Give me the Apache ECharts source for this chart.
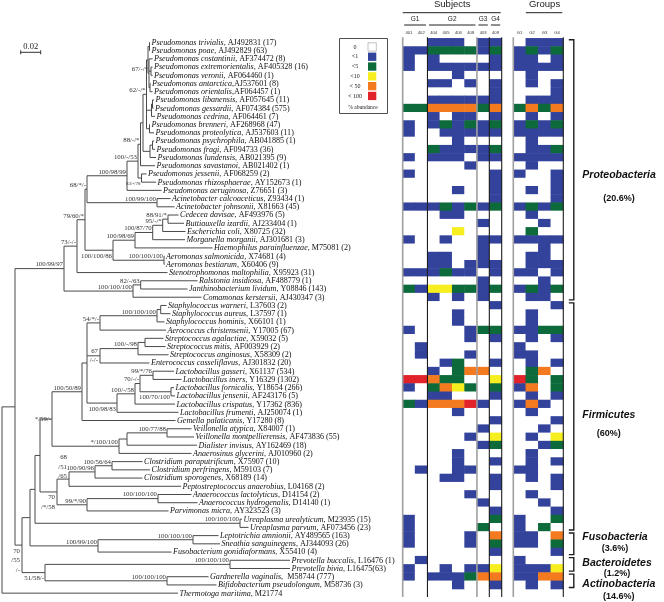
<!DOCTYPE html>
<html>
<head>
<meta charset="utf-8">
<script src="https://cdn.jsdelivr.net/npm/echarts@6/dist/echarts.min.js"></script>
<style>
  html, body { margin: 0; padding: 0; background: #fff; }
  #main { width: 664px; height: 602px; }
</style>
</head>
<body>
<div id="main"></div>
<script>
// tip names (italic part) and the accession / clone count that follows
const species = [
  'Pseudomonas trivialis', 'Pseudomonas poae', 'Pseudomonas costantinii', 'Pseudomonas extremorientalis',
  'Pseudomonas veronii', 'Pseudomonas antarctica', 'Pseudomonas orientalis', 'Pseudomonas libanensis',
  'Pseudomonas gessardii', 'Pseudomonas cedrina', 'Pseudomonas brenneri', 'Pseudomonas proteolytica',
  'Pseudomonas psychrophila', 'Pseudomonas fragi', 'Pseudomonas lundensis', 'Pseudomonas savastanoi',
  'Pseudomonas jessenii', 'Pseudomonas rhizosphaerae', 'Pseudomonas aeruginosa', 'Acinetobacter calcoaceticus',
  'Acinetobacter johnsonii', 'Cedecea davisae', 'Buttiauxella izardii', 'Escherichia coli',
  'Morganella morganii', 'Haemophilus parainfluenzae', 'Aeromonas salmonicida', 'Aeromonas bestiarum',
  'Stenotrophomonas maltophilia', 'Ralstonia insidiosa', 'Janthinobacterium lividum', 'Comamonas kerstersii',
  'Staphylococcus warneri', 'Staphylococcus aureus', 'Staphylococcus hominis', 'Aerococcus christensenii',
  'Streptococcus agalactiae', 'Streptococcus mitis', 'Streptococcus anginosus', 'Enterococcus casseliflavus',
  'Lactobacillus gasseri', 'Lactobacillus iners', 'Lactobacillus fornicalis', 'Lactobacillus jensenii',
  'Lactobacillus crispatus', 'Lactobacillus frumenti', 'Gemella palaticanis', 'Veillonella atypica',
  'Veillonella montpellierensis', 'Dialister invisus', 'Anaerosinus glycerini', 'Clostridium paraputrificum',
  'Clostridium perfringens', 'Clostridium sporogenes', 'Peptostreptococcus anaerobius', 'Anaerococcus lactolyticus',
  'Anaerococcus hydrogenalis', 'Parvimonas micra', 'Ureaplasma urealyticum', 'Ureaplasma parvum',
  'Leptotrichia amnionii', 'Sneathia sanguinegens', 'Fusobacterium gonidiaformans', 'Prevotella buccalis',
  'Prevotella bivia', 'Gardnerella vaginalis', 'Bifidobacterium pseudolongum', 'Thermotoga maritima'
];
const accessions = [
  ', AJ492831 (17)', ', AJ492829 (63)', ', AF374472 (8)', ', AF405328 (16)',
  ', AF064460 (1)', ',AJ537601 (8)', ',AF064457 (1)', ', AF057645 (11)',
  ', AF074384 (575)', ', AF064461 (7)', ', AF268968 (47)', ', AJ537603 (11)',
  ', AB041885 (1)', ', AF094733 (36)', ', AB021395 (9)', ', AB021402 (1)',
  ', AF068259 (2)', ', AY152673 (1)', ', Z76651 (3)', ', Z93434 (1)',
  ', X81663 (45)', ', AF493976 (5)', ', AJ233404 (1)', ', X80725 (32)',
  ', AJ301681 (3)', ', M75081 (2)', ', X74681 (4)', ', X60406 (9)',
  ', X95923 (31)', ', AF488779 (1)', ', Y08846 (143)', ', AJ430347 (3)',
  ', L37603 (2)', ', L37597 (1)', ', X66101 (1)', ', Y17005 (67)',
  ', X59032 (5)', ', AF003929 (2)', ', X58309 (2)', ', AJ301832 (20)',
  ', X61137 (534)', ', Y16329 (1302)', ', Y18654 (266)', ', AF243176 (5)',
  ', Y17362 (836)', ', AJ250074 (1)', ', Y17280 (8)', ', X84007 (1)',
  ', AF473836 (55)', ', AY162469 (18)', ', AJ010960 (2)', ', X75907 (10)',
  ', M59103 (7)', ', X68189 (14)', ', L04168 (2)', ', D14154 (2)',
  ', D14140 (1)', ', AY323523 (3)', ', M23935 (15)', ', AF073456 (23)',
  ', AY489565 (163)', ', AJ344093 (26)', ', X55410 (4)', ', L16476 (1)',
  ', L16475(63)', ',  M58744 (777)', ', M58736 (3)', ', M21774'
];

// tree: [support, branch length, children] for clades, [tip index, branch length] for tips
const tree =
['', 0, [
 ['', 0.013, [
  ['100/99/97', 0.049, [
   ['73/-/-', 0.013, [
    ['79/60/*', 0.008, [
     ['68/*/-', 0.002, [
      ['100/98/99', 0.040, [
       ['100/-/53', 0.011, [
        ['88/-/*', 0.0025, [
         ['', 0.0025, [
          ['62/-/*', 0.0035, [
           ['', 0.0015, [
            ['', 0.0015, [[0, 0.0005], [1, 0.0005]]],
            ['67/-/*', 0.001, [
             [2, 0.0035],
             ['', 0.002, [[3, 0.0015], [4, 0.0015]]],
             ['', 0.001, [[5, 0.0005], [6, 0.0025]]]
            ]]
           ]],
           ['', 0.005, [['', 0.001, [[7, 0.0015], [8, 0.001]]], [9, 0.0035]]],
           ['', 0.003, [[10, 0.0005], [11, 0.0045]]]
          ]],
          ['', 0.007, [['', 0.0025, [[12, 0.0015], [13, 0.0025]]], [14, 0.006]]]
         ]],
         [15, 0.0145]
        ]],
        ['83/-/78', 0.0035, [[16, 0.005], [17, 0.0145]]]
       ]],
       [18, 0.0345]
      ]],
      ['100/99/100', 0.070, [[19, 0.0135], [20, 0.0175]]]
     ]],
     ['100/100/86', 0.028, [
      ['100/98/69', 0.022, [
       ['100/87/70', 0.0177, [
        ['95/-/*', 0.010, [['88/91/*', 0.0053, [[21, 0.0105], [22, 0.016]]], [23, 0.0228]]],
        [24, 0.0323]
       ]],
       [25, 0.0775]
      ]],
      ['100/100/100', 0.051, [[26, 0.0005], [27, 0.0005]]]
     ]]
    ]],
    [28, 0.0905]
   ]],
   ['100/100/100', 0.069, [['82/-/63', 0.0077, [[29, 0.0568], [30, 0.0468]]], [31, 0.0685]]]
  ]],
  ['70|/55|/-', 0.007, [
   ['', 0.008, [
    ['', 0.005, [
     ['', 0.005, [
      ['*/59/-', 0.012, [
       ['100/50/89', 0.030, [
        ['', 0.005, [
         ['54/*/-', 0.013, [
          ['100/100/100', 0.057, [['', 0.0037, [[32, 0.0058], [33, 0.0098]]], [34, 0.0075]]],
          [35, 0.066]
         ]],
         ['67|/-/-', 0.013, [
          ['100/-/98', 0.038, [['', 0.007, [[36, 0.0185], [37, 0.0205]]], [38, 0.0305]]],
          [39, 0.0495]
         ]],
         ['100/98/83', 0.030, [
          ['100/-/58', 0.018, [
           ['70/-/-', 0.005, [
            ['99/*/76', 0.013, [[40, 0.021], [41, 0.0285]]],
            ['100/70/100', 0.031, [[42, 0.003], [43, 0.004]]]
           ]],
           [44, 0.040]
          ]],
          [45, 0.0615]
         ]]
        ]],
        [46, 0.0935]
       ]],
       ['*/100/100', 0.067, [
        ['', 0.008, [['100/77/88', 0.040, [[47, 0.0245], [48, 0.027]]], [49, 0.070]]],
        [50, 0.0725]
       ]]
      ]],
      ['70|/*/58', 0.017, [
       ['68|/51|/65', 0.012, [
        ['100/90/96', 0.026, [['100/56/64', 0.017, [[51, 0.0305], [52, 0.038]]], [53, 0.0475]]],
        [54, 0.112]
       ]],
       ['99/*/90', 0.030, [['100/100/100', 0.071, [[55, 0.0335], [56, 0.0395]]], [57, 0.0815]]]
      ]]
     ]],
     ['100/100/100', 0.205, [[58, 0.002], [59, 0.0085]]]
    ]],
    ['100/99/100', 0.068, [['100/100/100', 0.095, [[60, 0.0255], [61, 0.027]]], [62, 0.0735]]]
   ]],
   ['51/58/-', 0.023, [
    ['100/100/100', 0.185, [[63, 0.060], [64, 0.060]]],
    ['100/100/100', 0.122, [[65, 0.0415], [66, 0.0495]]]
   ]]
  ]]
 ]],
 [67, 0.176]
]];

// % abundance class (0..5) per row, one character per column
const subjectCols = ['401', '402', '404', '405', '406', '408', '403', '409'];
const subjectGroups = [['G1', 0, 1], ['G2', 2, 5], ['G3', 6, 6], ['G4', 7, 7]];
const subjectClass = [
  '00111011', '11222212', '10100001', '10111111', '00001000', '00110101', '00000001', '00111111',
  '22444424', '00101101', '10121212', '10011111', '00001000', '00211112', '10111011', '00000100',
  '10000001', '00000001', '00001001', '00000001', '11121212', '00011000', '00000010', '00003000',
  '10010011', '00000010', '00110010', '00110111', '11121101', '00000010', '21332212', '00101010',
  '00000001', '00001000', '00001000', '10000122', '00000101', '01000000', '01000100', '00012001',
  '00102440', '55422003', '10243202', '00110001', '21444510', '00001000', '00000001', '00000010',
  '00000103', '00000012', '00001000', '00001001', '01001100', '00011001', '00000001', '00000100',
  '00000010', '00000001', '10000002', '10000020', '10000104', '10000102', '00000001', '01000000',
  '10010113', '10111244', '00001001'
];
const groupCols = ['G1', 'G2', 'G3', 'G4'];
const groupClass = [
  '0111', '1212', '1101', '1111', '0100', '0101', '0001', '0111',
  '2424', '0101', '1212', '1111', '0100', '0112', '1111', '0100',
  '1001', '0001', '0101', '0001', '1212', '0100', '0010', '0200',
  '1111', '0010', '0110', '0111', '1101', '0010', '1212', '0110',
  '0001', '0100', '0100', '1122', '0101', '1000', '1100', '0101',
  '0240', '5202', '1402', '0101', '1410', '0100', '0001', '0010',
  '0103', '0012', '0100', '0101', '1100', '0101', '0001', '0100',
  '0010', '0001', '1002', '1020', '1104', '1102', '0001', '1000',
  '1113', '1144', '0101'
];
const levels = ['0', '<1', '<5', '<10', '< 50', '< 100'];
const levelColors = ['#ffffff', '#33439b', '#0d6a3a', '#f6ee1f', '#f47a20', '#e3232a'];

// phylum, share of clones, first row, last row
const phyla = [
  ['Proteobacteria', '(20.6%)', 0, 31],
  ['Firmicutes', '(60%)', 32, 59],
  ['Fusobacteria', '(3.6%)', 60, 62],
  ['Bacteroidetes', '(1.2%)', 63, 64],
  ['Actinobacteria', '(14.6%)', 65, 66]
];
const scaleBar = 0.02;

// ---------- layout ----------
const ROW = 8.22;
const TOP = 38.3;
const SERIF = 'Liberation Serif';
const SANS = 'Liberation Sans';
const nRows = subjectClass.length;
// hand placement of the phylum captions relative to the bracket middle (px)
const captionShift = [[5, 29], [-1, 17], [-7, 5], [-1, 9], [3, 16]];
// support labels that sit below their branch (or are centred on it) instead of above
const labelPlace = {
  '51/58/-': 'below', '100/100/86': 'below', '100/98/83': 'below', '100/70/100': 'below',
  '83/-/78': 'below', '*/59/-': 'middle',
  '68|/51|/65': 'above', '70|/*/58': 'below', '70|/55|/-': 'below', '67|/-/-': 'middle'
};

const nodes = [];
function walk(n, x0) {
  const label = n[0], len = n[1], kids = n[2];
  const node = { x0: x0, x: x0 + len };
  if (kids) {
    const cs = kids.map(k => walk(k, node.x));
    node.ya = cs[0].y;
    node.yb = cs[cs.length - 1].y;
    node.y = (node.ya + node.yb) / 2;
    node.tip = -1;
    node.label = label;
  } else {
    node.tip = label;
    node.y = label;
    node.ya = node.yb = label;
    node.label = '';
  }
  nodes.push(node);
  return node;
}
walk(tree, 0);

const branchData = nodes.map(n => [n.x0, n.x, n.y, n.ya, n.yb]);
const tipData = nodes.filter(n => n.tip >= 0).map(n => [n.x, n.y, n.tip]);
const supportNodes = nodes.filter(n => n.label);
const supportData = supportNodes.map((n, i) => [n.x, n.y, i]);

const rowNames = subjectClass.map((s, i) => String(i));
const subjectData = [];
subjectClass.forEach((s, r) => s.split('').forEach((c, k) => subjectData.push([k, r, +c])));
const groupData = [];
groupClass.forEach((s, r) => s.split('').forEach((c, k) => groupData.push([k, r, +c])));

const measure = document.createElement('canvas').getContext('2d');
function textWidth(t, font) { measure.font = font; return measure.measureText(t).width; }

function cellBox(api, col) {
  const c = api.coord([col, 0]);
  const s = api.size([1, 1]);
  return { left: c[0] - s[0] / 2, right: c[0] + s[0] / 2, top: c[1] - s[1] / 2, w: s[0], h: s[1] };
}

// column group headers above a heatmap
function headerSeries(xi, headers, topTitle, titleFrom, titleTo) {
  return {
    type: 'custom', xAxisIndex: xi, yAxisIndex: xi, silent: true,
    data: headers.map((h, i) => [h[1], 0, h[2], i]).concat([[titleFrom, 0, titleTo, -1]]),
    encode: { x: 0, y: 1 },
    renderItem: function (params, api) {
      const from = api.value(0), to = api.value(2), idx = api.value(3);
      const a = cellBox(api, from), b = cellBox(api, to);
      const top = a.top;
      const cx = (a.left + b.right) / 2;
      if (idx < 0) {
        return { type: 'group', children: [
          { type: 'text', x: cx, y: top - 33.5, style: { text: topTitle, fontFamily: SANS, fontSize: 9.5, fill: '#222', align: 'center', verticalAlign: 'middle' } },
          { type: 'line', shape: { x1: a.left, y1: top - 25.6, x2: b.right - 1, y2: top - 25.6 }, style: { stroke: '#222', lineWidth: 1 } }
        ] };
      }
      return { type: 'group', children: [
        { type: 'text', x: cx, y: top - 19, style: { text: headers[idx][0], fontFamily: SANS, fontSize: 6.5, fill: '#222', align: 'center', verticalAlign: 'middle' } },
        { type: 'line', shape: { x1: a.left + 1.5, y1: top - 13.3, x2: b.right - 1.5, y2: top - 13.3 }, style: { stroke: '#222', lineWidth: 1 } }
      ] };
    }
  };
}

// vertical rules through a heatmap: [column boundary, dark?]
function rulesSeries(xi, rules, ncol) {
  return {
    type: 'custom', xAxisIndex: xi, yAxisIndex: xi, silent: true, z: 5,
    data: rules.map(r => [r[0], 0, r[1]]),
    encode: { x: 0, y: 1 },
    renderItem: function (params, api) {
      const k = api.value(0), dark = api.value(2);
      const box = k < ncol ? cellBox(api, k) : cellBox(api, ncol - 1);
      const x = k < ncol ? box.left : box.right;
      const bottom = box.top + box.h * nRows + 8;
      return { type: 'line', shape: { x1: x, y1: box.top - 1, x2: x, y2: bottom },
        style: { stroke: dark ? '#1e1e1e' : '#a0a0a0', lineWidth: dark ? 1.1 : 1.6 } };
    }
  };
}

const legendGraphic = [
  { type: 'rect', shape: { x: 339.5, y: 38.5, width: 48, height: 75 }, style: { fill: '#fff', stroke: '#222', lineWidth: 0.8 } },
  { type: 'text', x: 363, y: 107.5, style: { text: '% abundance', fontFamily: SERIF, fontSize: 5.5, fill: '#222', align: 'center', verticalAlign: 'middle' } }
];
levels.forEach((lv, k) => {
  legendGraphic.push({ type: 'text', x: 355, y: 47 + k * 9.8, style: { text: lv, fontFamily: SERIF, fontSize: 6, fill: '#222', align: 'center', verticalAlign: 'middle' } });
  legendGraphic.push({ type: 'rect', shape: { x: 368, y: 42.8 + k * 9.8, width: 8.3, height: 8.3 },
    style: { fill: levelColors[k], stroke: k === 0 ? '#999' : null, lineWidth: 0.6 } });
});

const chart = echarts.init(document.getElementById('main'));
chart.setOption({
  animation: false,
  backgroundColor: '#fff',
  graphic: legendGraphic,
  grid: [
    { left: 2, top: TOP, width: 300, height: ROW * (nRows + 1) },
    { left: 402.7, top: TOP, width: 99, height: ROW * nRows },
    { left: 513.3, top: TOP, width: 50, height: ROW * nRows }
  ],
  xAxis: [
    { type: 'value', gridIndex: 0, min: 0, max: 0.3, show: false },
    { type: 'category', gridIndex: 1, data: subjectCols, position: 'top',
      axisLine: { show: false }, axisTick: { show: false }, splitLine: { show: false },
      axisLabel: { fontSize: 4.2, margin: 3, color: '#333', fontFamily: SANS } },
    { type: 'category', gridIndex: 2, data: groupCols, position: 'top',
      axisLine: { show: false }, axisTick: { show: false }, splitLine: { show: false },
      axisLabel: { fontSize: 4.2, margin: 3, color: '#333', fontFamily: SANS } }
  ],
  yAxis: [
    { type: 'value', gridIndex: 0, min: -0.5, max: nRows + 0.5, inverse: true, show: false },
    { type: 'category', gridIndex: 1, data: rowNames, inverse: true, show: false },
    { type: 'category', gridIndex: 2, data: rowNames, inverse: true, show: false }
  ],
  visualMap: {
    type: 'piecewise', show: false, dimension: 2, seriesIndex: [4, 5],
    pieces: levelColors.map((c, k) => ({ value: k, color: c }))
  },
  series: [
    { // branches
      type: 'custom', xAxisIndex: 0, yAxisIndex: 0, silent: true,
      data: branchData, encode: { x: [0, 1], y: [2, 3, 4] },
      renderItem: function (params, api) {
        const x0 = api.value(0), x1 = api.value(1), y = api.value(2), ya = api.value(3), yb = api.value(4);
        const st = { stroke: '#4a4a4a', lineWidth: 1 };
        const kids = [];
        if (x1 > x0) {
          const p = api.coord([x0, y]), q = api.coord([x1, y]);
          kids.push({ type: 'line', shape: { x1: p[0], y1: p[1], x2: q[0], y2: q[1] }, style: st });
        }
        if (yb > ya) {
          const p = api.coord([x1, ya]), q = api.coord([x1, yb]);
          kids.push({ type: 'line', shape: { x1: p[0], y1: p[1], x2: q[0], y2: q[1] }, style: st });
        }
        return { type: 'group', children: kids };
      }
    },
    { // tip labels
      type: 'custom', xAxisIndex: 0, yAxisIndex: 0, silent: true,
      data: tipData, encode: { x: 0, y: 1 },
      renderItem: function (params, api) {
        const p = api.coord([api.value(0), api.value(1)]);
        const i = api.value(2);
        return { type: 'text', x: p[0] + 1.5, y: p[1] + 0.3, style: {
          text: '{s|' + species[i] + '}' + accessions[i],
          rich: { s: { fontStyle: 'italic', fontFamily: SERIF, fontSize: 8.1, fill: '#111' } },
          fontFamily: SERIF, fontSize: 8.1, fill: '#111', verticalAlign: 'middle', align: 'left' } };
      }
    },
    { // bootstrap support
      type: 'custom', xAxisIndex: 0, yAxisIndex: 0, silent: true,
      data: supportData, encode: { x: 0, y: 1 },
      renderItem: function (params, api) {
        const p = api.coord([api.value(0), api.value(1)]);
        const t = supportNodes[api.value(2)].label;
        const multi = t.indexOf('|') >= 0;
        const place = labelPlace[t] || 'above';
        let y = p[1] + 0.8, va = 'bottom';
        if (place === 'below') { y = p[1] + 1; va = 'top'; }
        if (place === 'middle') { y = p[1]; va = 'middle'; }
        if (place === 'above' && multi) { y = p[1] + 2; }
        return { type: 'text', x: p[0] - (multi ? 2 : 1), y: y, style: {
          text: t.split('|').join('\n'), fontFamily: SERIF, fontSize: t === '83/-/78' ? 5 : 6.8, fill: '#333', lineHeight: 9.5,
          align: 'right', verticalAlign: va } };
      }
    },
    { // scale bar
      type: 'custom', xAxisIndex: 0, yAxisIndex: 0, silent: true,
      data: [[0, 0, scaleBar]], encode: { x: 0, y: 1 },
      renderItem: function (params, api) {
        const o = api.coord([0, -0.5]);
        const len = api.size([api.value(2), 0])[0];
        const x = o[0] + 18.7, y = o[1] + 14;
        const st = { stroke: '#333', lineWidth: 1 };
        return { type: 'group', children: [
          { type: 'line', shape: { x1: x, y1: y, x2: x + len, y2: y }, style: st },
          { type: 'line', shape: { x1: x, y1: y - 2, x2: x, y2: y + 2 }, style: st },
          { type: 'line', shape: { x1: x + len, y1: y - 2, x2: x + len, y2: y + 2 }, style: st },
          { type: 'text', x: x + len / 2, y: y - 1, style: { text: String(api.value(2)), fontFamily: SERIF, fontSize: 8.5, fill: '#222', align: 'center', verticalAlign: 'bottom' } }
        ] };
      }
    },
    { type: 'heatmap', xAxisIndex: 1, yAxisIndex: 1, data: subjectData, silent: true, emphasis: { disabled: true } },
    { type: 'heatmap', xAxisIndex: 2, yAxisIndex: 2, data: groupData, silent: true, emphasis: { disabled: true } },
    headerSeries(1, subjectGroups, 'Subjects', 0, subjectCols.length - 1),
    headerSeries(2, [], 'Groups', 1, groupCols.length - 1),
    rulesSeries(1, [[0, 0], [2, 1], [6, 0], [7, 1], [8, 1]], subjectCols.length),
    rulesSeries(2, [[0, 0], [4, 1]], groupCols.length),
    { // phylum brackets
      type: 'custom', xAxisIndex: 2, yAxisIndex: 2, silent: true,
      data: phyla.map((p, i) => [0, p[2], p[3], i]), encode: { x: 0, y: [1, 2] },
      renderItem: function (params, api) {
        const idx = api.value(3);
        const a = api.coord([3, api.value(1)]), b = api.coord([3, api.value(2)]);
        const s = api.size([1, 1]);
        const right = a[0] + s[0] / 2;
        const bx = right + 10.5;
        const y1 = a[1] - s[1] / 2 + 1.5, y2 = b[1] + s[1] / 2 - 1.5;
        const mid = (y1 + y2) / 2;
        const st = { stroke: '#1e1e1e', lineWidth: 1.4 };
        const nameFont = 'italic bold 10.5px ' + SANS;
        const w = textWidth(phyla[idx][0], nameFont);
        const sh = captionShift[idx];
        return { type: 'group', children: [
          { type: 'polyline', shape: { points: [[bx - 5, y1], [bx, y1], [bx, y2], [bx - 5, y2]] }, style: Object.assign({ fill: null }, st) },
          { type: 'text', x: bx + 8.5, y: mid + sh[0], style: { text: phyla[idx][0], fontFamily: SANS, fontStyle: 'italic', fontWeight: 'bold', fontSize: 10.5, fill: '#111', align: 'left', verticalAlign: 'middle' } },
          { type: 'text', x: bx + 8.5 + w / 2, y: mid + sh[1], style: { text: phyla[idx][1], fontFamily: SANS, fontWeight: 'bold', fontSize: 9, fill: '#111', align: 'center', verticalAlign: 'middle' } }
        ] };
      }
    }
  ]
});
</script>
</body>
</html>
